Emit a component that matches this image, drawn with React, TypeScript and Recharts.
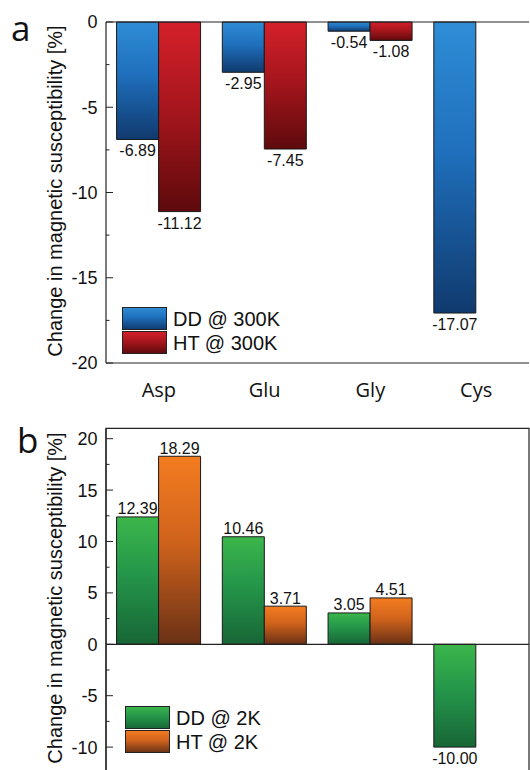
import React from 'react';
import {
    BarChart, Bar, XAxis, YAxis, ReferenceLine, ReferenceArea, LabelList
} from 'recharts';

// amino acids on the x axis
const categories = ['Asp', 'Glu', 'Gly', 'Cys'];

// panel a: 300 K
const dd300 = [-6.89, -2.95, -0.54, -17.07];
const ht300 = [-11.12, -7.45, -1.08, null];
const legendA = ['DD @ 300K', 'HT @ 300K'];
const ticksA = [-20, -17.5, -15, -12.5, -10, -7.5, -5, -2.5, 0];

// panel b: 2 K
const dd2 = [12.39, 10.46, 3.05, -10.0];
const ht2 = [18.29, 3.71, 4.51, null];
const legendB = ['DD @ 2K', 'HT @ 2K'];
const ticksB = [-10, -7.5, -5, -2.5, 0, 2.5, 5, 7.5, 10, 12.5, 15, 17.5, 20];

const yTitle = 'Change in magnetic susceptibility [%]';

const ARIAL = '"Liberation Sans", Arial, sans-serif';
const SEGOE = '"Open Sans", "Noto Sans", sans-serif';

const dataA = categories.map((name, i) => ({ name, dd: dd300[i], ht: ht300[i] }));
const dataB = categories.map((name, i) => ({ name, dd: dd2[i], ht: ht2[i] }));

const gradients: Record<string, [string, string, string]> = {
    blue: ['#2f8dd6', '#1f6fbc', '#103a6e'],
    red: ['#d4202a', '#a8161d', '#5e0a0c'],
    green: ['#3cb64b', '#24964a', '#186636'],
    orange: ['#f47c20', '#d0631c', '#6a3116'],
};

const Grad = ({ id, c }: { id: string; c: [string, string, string] }) => (
    <linearGradient id={id} x1="0" y1="0" x2="0" y2="1">
        <stop offset="0%" stopColor={c[0]} />
        <stop offset="45%" stopColor={c[1]} />
        <stop offset="100%" stopColor={c[2]} />
    </linearGradient>
);

const YTick = (props: any) => {
    const { x, y, payload } = props;
    const v = payload.value as number;
    const major = v % 5 === 0;
    return (
        <g>
            <line x1={x} x2={x + (major ? 7 : 3.5)} y1={y} y2={y} stroke="#222" strokeWidth={1} />
            {major && (
                <text x={x - 8.5} y={y} dy="0.36em" textAnchor="end" fontSize={18}
                    fontFamily={ARIAL} fill="#111">{v}</text>
            )}
        </g>
    );
};

const valueLabel = (props: any) => {
    const box = props.viewBox && props.viewBox.width != null ? props.viewBox : props;
    const { x, y, width, height } = box;
    const value = props.value;
    if (value == null || x == null) return null;
    const top = Math.min(y, y + height);
    const bottom = Math.max(y, y + height);
    const ty = value < 0 ? bottom + 17 : top - 2.5;
    return (
        <text x={x + width / 2} y={ty} textAnchor="middle" fontSize={16}
            fontFamily={ARIAL} fill="#111">{Number(value).toFixed(2)}</text>
    );
};

const yLabel = (cx: number, cy: number) => () => (
    <text x={cx} y={cy} transform={`rotate(-90 ${cx} ${cy})`} textAnchor="middle"
        dominantBaseline="central" fontSize={20} fontFamily={ARIAL} fill="#111">{yTitle}</text>
);

const LegendBox = ({ left, top, names, colors, pre }: any) => (
    <div style={{ position: 'absolute', left, top }}>
        <svg width={200} height={48} style={{ display: 'block' }}>
            <defs>
                <Grad id={`${pre}0`} c={gradients[colors[0]]} />
                <Grad id={`${pre}1`} c={gradients[colors[1]]} />
            </defs>
            {names.map((n: string, i: number) => (
                <g key={n}>
                    <rect x={0.5} y={0.5 + i * 24} width={44} height={22} fill={`url(#${pre}${i})`}
                        stroke="#222" strokeWidth={1} />
                    <text x={51} y={11.5 + i * 24} dy="0.36em" fontSize={20} fontFamily={ARIAL}
                        fill="#111">{n}</text>
                </g>
            ))}
        </svg>
    </div>
);

const PanelLetter = ({ left, top, ch }: any) => (
    <div style={{
        position: 'absolute', left, top, fontFamily: SEGOE, fontSize: 35,
        lineHeight: '35px', color: '#111'
    }}>{ch}</div>
);

export default function App() {
    return (
        <div style={{
            position: 'absolute', left: 0, top: 0, width: 530, height: 770,
            overflow: 'hidden', background: '#fff'
        }}>
            <div style={{ position: 'absolute', left: 0, top: 0 }}>
                <BarChart width={530} height={410} data={dataA}
                    margin={{ top: 22, right: 1, left: 0, bottom: 0 }}
                    barCategoryGap="10%" barGap={0}>
                    <defs>
                        <Grad id="gBlue" c={gradients.blue} />
                        <Grad id="gRed" c={gradients.red} />
                    </defs>
                    <XAxis dataKey="name" height={47} tickLine={false} tickSize={0} tickMargin={20}
                        axisLine={{ stroke: '#222', strokeWidth: 1.2 }}
                        tick={{ fontSize: 20, fontFamily: SEGOE, fill: '#111' }} />
                    <YAxis width={106} domain={[-20, 0]} ticks={ticksA} interval={0}
                        tickLine={false} tickSize={0} tickMargin={0} tick={<YTick />}
                        axisLine={{ stroke: '#222', strokeWidth: 1.2 }}
                        label={{ content: yLabel(55, 191) }} />
                    <ReferenceLine y={0} stroke="#222" strokeWidth={1.2} />
                    <Bar dataKey="dd" fill="url(#gBlue)" stroke="#1a1a1a" strokeWidth={1}
                        isAnimationActive={false}>
                        <LabelList dataKey="dd" content={valueLabel} />
                    </Bar>
                    <Bar dataKey="ht" fill="url(#gRed)" stroke="#1a1a1a" strokeWidth={1}
                        isAnimationActive={false}>
                        <LabelList dataKey="ht" content={valueLabel} />
                    </Bar>
                </BarChart>
            </div>

            <div style={{ position: 'absolute', left: 0, top: 400 }}>
                <BarChart width={530} height={380} data={dataB}
                    margin={{ top: 28.4, right: 1, left: 0, bottom: 7.2 }}
                    barCategoryGap="10%" barGap={0}>
                    <defs>
                        <Grad id="gGreen" c={gradients.green} />
                        <Grad id="gOrange" c={gradients.orange} />
                    </defs>
                    <XAxis dataKey="name" hide />
                    <YAxis width={106} domain={[-12.5, 21]} ticks={ticksB} interval={0}
                        tickLine={false} tickSize={0} tickMargin={0} tick={<YTick />}
                        axisLine={{ stroke: '#222', strokeWidth: 1.2 }}
                        label={{ content: yLabel(55, 198) }} />
                    <ReferenceArea y1={-12.5} y2={21} fill="none" stroke="#222" strokeWidth={1.2} />
                    <ReferenceLine y={0} stroke="#222" strokeWidth={1.2} />
                    <Bar dataKey="dd" fill="url(#gGreen)" stroke="#1a1a1a" strokeWidth={1}
                        isAnimationActive={false}>
                        <LabelList dataKey="dd" content={valueLabel} />
                    </Bar>
                    <Bar dataKey="ht" fill="url(#gOrange)" stroke="#1a1a1a" strokeWidth={1}
                        isAnimationActive={false}>
                        <LabelList dataKey="ht" content={valueLabel} />
                    </Bar>
                </BarChart>
            </div>

            <LegendBox left={121.5} top={306.5} names={legendA} colors={['blue', 'red']} pre="lgA" />
            <LegendBox left={125} top={705.5} names={legendB} colors={['green', 'orange']} pre="lgB" />
            <PanelLetter left={11} top={10} ch="a" />
            <PanelLetter left={17} top={422} ch="b" />
        </div>
    );
}
